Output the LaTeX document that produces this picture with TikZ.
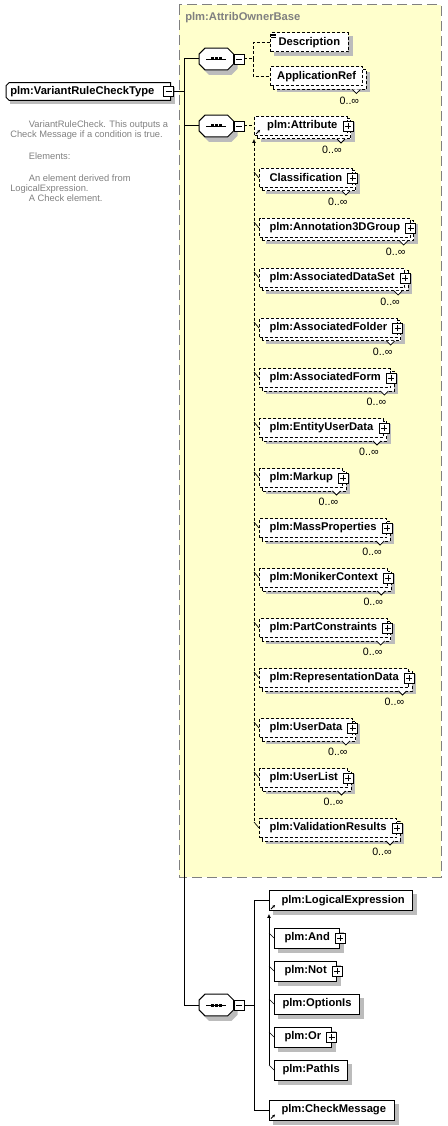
\documentclass[tikz,border=0pt]{standalone}
\usepackage{fontspec}
\setmainfont{Liberation Sans}
\usetikzlibrary{calc,positioning,arrows.meta}
\definecolor{basefill}{RGB}{255,255,204}
\definecolor{baseedge}{RGB}{128,128,128}
\definecolor{shadowgray}{RGB}{188,188,188}
\definecolor{doccolor}{RGB}{128,128,128}
\newcommand{\substtipstyle}{{Latex[length=3pt,width=3pt]}-}
\pgfdeclarelayer{basebg}
\pgfdeclarelayer{shade}
\pgfsetlayers{basebg,shade,main}

% octagon outline round a node, shifted by #2,#3
\newcommand{\octpath}[3]{($(#1.north west)+(6+#2,#3)$) -- ($(#1.north east)+(-6+#2,#3)$) -- ($(#1.north east)+(#2,6+#3)$)
  -- ($(#1.south east)+(#2,-6+#3)$) -- ($(#1.south east)+(-6+#2,#3)$) -- ($(#1.south west)+(6+#2,#3)$)
  -- ($(#1.south west)+(#2,-6+#3)$) -- ($(#1.north west)+(#2,6+#3)$) -- cycle}
% sequence compositor
\newcommand{\seqshape}[1]{%
  \begin{pgfonlayer}{shade}
    \fill[shadowgray] \octpath{#1}{4}{5};
  \end{pgfonlayer}
  \draw[conn, fill=white] \octpath{#1}{0}{0};
  \draw[line width=0.6pt] ($(#1.center)+(-10,0)$) -- ($(#1.center)+(10,0)$);
  \foreach \d in {-4,0,4} \fill[black] ($(#1.center)+(\d-1.5,-1.5)$) rectangle ++(3,3);
}
% complex type box, left corners cut
\newcommand{\typeshape}[1]{%
  \begin{pgfonlayer}{shade}
    \fill[shadowgray] ($(#1.south west)+(4,4)$) rectangle ($(#1.north east)+(4,4)$);
    \fill[white] ($(#1.north west)+(3,0)$) -- (#1.north east) -- (#1.south east) -- ($(#1.south west)+(3,0)$)
      -- ($(#1.south west)+(0,-3)$) -- ($(#1.north west)+(0,3)$) -- cycle;
  \end{pgfonlayer}
  \draw[conn] ($(#1.north west)+(3,0)$) -- (#1.north east) -- (#1.south east) -- ($(#1.south west)+(3,0)$)
    -- ($(#1.south west)+(0,-3)$) -- ($(#1.north west)+(0,3)$) -- cycle;
}
% grey shadow under one element box
\newcommand{\shadeone}[1]{%
  \begin{pgfonlayer}{shade}
    \fill[shadowgray] ($(#1.south west)+(4,4)$) rectangle ($(#1.north east)+(4,4)$);
  \end{pgfonlayer}}
% shadow and second box behind an element that repeats
\newcommand{\shademulti}[1]{%
  \begin{pgfonlayer}{shade}
    \fill[shadowgray] ($(#1.south west)+(7,6)$) rectangle ($(#1.north east)+(7,6)$);
    \draw[connopt, fill=white] ($(#1.south west)+(3,3)$) rectangle ($(#1.north east)+(3,3)$);
  \end{pgfonlayer}
  \draw[notchline] ($(#1.south east)+(-11,3)$) -- ++(4,4) -- ++(4,-4);}

\begin{document}
\begin{tikzpicture}[
    x=0.75pt, y=-0.75pt,
    font=\fontsize{8.4pt}{10pt}\selectfont\bfseries,
    conn/.style={line width=0.75pt},
    connopt/.style={line width=0.75pt, dash pattern=on 2.25pt off 1.5pt},
    tickline/.style={line width=0.5pt},
    refmark/.style={line width=0.6pt, -{Stealth[length=2.2pt,width=2.2pt]}},
    notchline/.style={line width=0.6pt, fill=white},
    elemopt/.style={draw, fill=white, line width=0.75pt, dash pattern=on 2.25pt off 1.5pt, anchor=west,
      minimum height=14.25pt, inner xsep=7.5pt, inner ysep=0pt},
    elemreq/.style={draw, fill=white, line width=0.75pt, anchor=west, minimum height=15pt, inner xsep=6pt, inner ysep=0pt},
    plusbox/.style={draw, solid, fill=white, line width=0.6pt, minimum size=7.5pt, inner sep=0pt,
      path picture={\draw[line width=0.6pt] ([xshift=1.5pt]path picture bounding box.west) -- ([xshift=-1.5pt]path picture bounding box.east)
        ([yshift=1.5pt]path picture bounding box.south) -- ([yshift=-1.5pt]path picture bounding box.north);}},
    minusbox/.style={draw, solid, fill=white, line width=0.6pt, minimum size=7.5pt, inner sep=0pt,
      path picture={\draw[line width=0.6pt] ([xshift=1.5pt]path picture bounding box.west) -- ([xshift=-1.5pt]path picture bounding box.east);}},
    seqbox/.style={minimum width=25.5pt, minimum height=16pt, inner sep=0pt, anchor=west},
    typebox/.style={minimum height=12.75pt, inner xsep=3pt, inner ysep=0pt, anchor=west},
    cardtxt/.style={font=\fontsize{8pt}{9pt}\selectfont\mdseries, inner sep=0pt, anchor=east},
    doctxt/.style={font=\fontsize{7pt}{7.5pt}\selectfont\mdseries, text=doccolor, align=left, inner sep=0pt},
    basebox/.style={fill=basefill, draw=baseedge, line width=0.75pt, dash pattern=on 7.5pt off 3.75pt},
    basetitle/.style={text=baseedge, anchor=west, inner sep=0pt}
]
  \useasboundingbox (0,0) rectangle (447,1126);

  % base type region
  \begin{pgfonlayer}{basebg}
    \draw[basebox] (179,5) rectangle (441,877);
  \end{pgfonlayer}
  \node[basetitle] (base-title) at (185,18) {plm:AttribOwnerBase};

  % complex type and its documentation
  \node[typebox] (vrct) at (6,91.5) {plm:VariantRuleCheckType\hspace*{9pt}};
  \typeshape{vrct}
  \node[minusbox] (vrct-m) at ([xshift=-1.5pt]vrct.east) {};
  \node[doctxt, anchor=north west] (doc) at (10,120)
    {\hspace*{14pt}VariantRuleCheck. This outputs a\\Check Message if a condition is true.\\[9pt]%
     \hspace*{14pt}Elements:\\[9pt]%
     \hspace*{14pt}An element derived from\\LogicalExpression.\\\hspace*{14pt}A Check element.};

  % sequences
  \node[seqbox] (seq-1) at (199,59) {};
  \seqshape{seq-1}
  \node[minusbox, anchor=west] (seq-1-m) at (seq-1.east) {};
  \node[seqbox] (seq-2) at (199,126) {};
  \seqshape{seq-2}
  \node[minusbox, anchor=west] (seq-2-m) at (seq-2.east) {};
  \node[seqbox] (seq-3) at (199,1005) {};
  \seqshape{seq-3}
  \node[minusbox, anchor=west] (seq-3-m) at (seq-3.east) {};

  \coordinate (hub) at (184,91.5);
  \draw[conn] (vrct-m.east) -- (hub);
  \draw[conn] (hub) |- (seq-1.west);
  \draw[conn] (hub) |- (seq-2.west);
  \draw[conn] (hub) |- (seq-3.west);

  % first sequence
  \node[elemopt, inner xsep=6pt] (desc) at (270,42.5) {Description};
  \shadeone{desc}
  \foreach \k in {0,1,2}
    \draw[line width=0.5pt] ($(desc.north west)+(1,1.5+1.8*\k)$) -- ++(5,0);
  \node[elemopt, inner xsep=5pt] (appref) at (270,76.5) {ApplicationRef};
  \shademulti{appref}
  \node[cardtxt] at ($(appref.south east)+(-4,14)$) {0..∞};

  \coordinate (fork-1) at (253,59);
  \draw[connopt] (seq-1-m.east) -- (fork-1);
  \draw[connopt] (fork-1) |- (desc.west);
  \draw[connopt] (fork-1) |- (appref.west);

  % second sequence: substitution group of plm:Attribute
  \node[elemopt] (attr) at (254,126) {\hspace*{2pt}plm:Attribute};
  \shademulti{attr}
  \node[plusbox] (attr-p) at (attr.east) {};
  \draw[refmark] ($(attr.south west)+(2,-2)$) -- ++(4,-4);
  \node[cardtxt] at ($(attr.south east)+(-6,14)$) {0..∞};
  \draw[connopt] (seq-2-m.east) -- (attr.west);

  \foreach \id/\txt/\yc in {cls/Classification/178, annot/plm:Annotation3DGroup/228,
      dataset/plm:AssociatedDataSet/278, folder/plm:AssociatedFolder/328, form/plm:AssociatedForm/378,
      eud/plm:EntityUserData/428, markup/plm:Markup/478, mass/plm:MassProperties/528,
      moniker/plm:MonikerContext/578, partc/plm:PartConstraints/628, repr/plm:RepresentationData/678,
      udata/plm:UserData/728, ulist/plm:UserList/778, valres/plm:ValidationResults/828} {
    \node[elemopt] (\id) at (259,\yc) {\txt};
    \shademulti{\id}
    \node[plusbox] (\id-p) at (\id.east) {};
    \node[cardtxt] at ($(\id.south east)+(-5,14)$) {0..∞};
    \draw[tickline] (\id.west) -- ++(-5,-6);
  }
  \draw[connopt, \substtipstyle] ([yshift=-2.2pt]attr.south west) -- ($(valres.west)+(-5,-6)$);

  % third sequence
  \node[elemreq] (logic) at (269,900.5) {\hspace*{3pt}plm:LogicalExpression};
  \shadeone{logic}
  \draw[refmark] ($(logic.south west)+(2,-2)$) -- ++(4,-4);
  \node[elemreq] (check) at (269,1110) {\hspace*{3pt}plm:CheckMessage};
  \shadeone{check}
  \draw[refmark] ($(check.south west)+(2,-2)$) -- ++(4,-4);

  \coordinate (fork-3) at (254,1005);
  \draw[conn] (seq-3-m.east) -- (fork-3);
  \draw[conn] (fork-3) |- (logic.west);
  \draw[conn] (fork-3) |- (check.west);

  \foreach \id/\txt/\yc in {and/plm:And/938, not/plm:Not/971, or/plm:Or/1037} {
    \node[elemreq, inner xsep=7.5pt] (\id) at (274,\yc) {\txt};
    \shadeone{\id}
    \node[plusbox] (\id-p) at (\id.east) {};
    \draw[tickline] (\id.west) -- ++(-5,-5);
  }
  \foreach \id/\txt/\yc in {optis/plm:OptionIs/1004, pathis/plm:PathIs/1070} {
    \node[elemreq] (\id) at (274,\yc) {\txt};
    \shadeone{\id}
    \draw[tickline] (\id.west) -- ++(-5,-5);
  }
  \draw[conn, \substtipstyle] ([yshift=-2.2pt]logic.south west) -- ($(pathis.west)+(-5,-5)$);
\end{tikzpicture}
\end{document}
